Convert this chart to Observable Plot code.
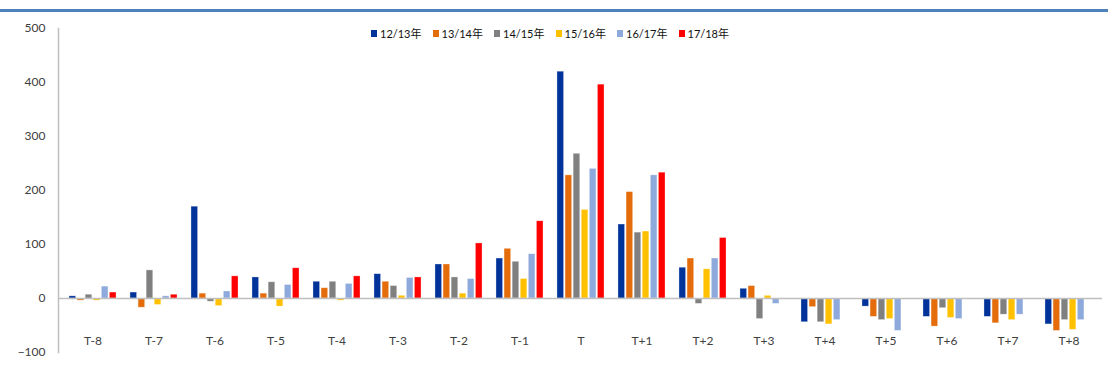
<!DOCTYPE html>
<html>
<head>
<meta charset="utf-8">
<script src="https://cdn.jsdelivr.net/npm/d3@7"></script>
<script src="https://cdn.jsdelivr.net/npm/@observablehq/plot@0.6"></script>
<style>
  body { margin: 0; background: #fff; }
  #wrap { position: relative; width: 1108px; height: 374px; font-family: Lato, "Noto Sans CJK SC", sans-serif; }
  #topline { position: absolute; left: 0; top: 9px; width: 1108px; height: 3px; background: #4F81BD; }
  #legend { position: absolute; left: 371px; top: 25px; display: flex; gap: 11px; font-size: 11px; color: #111; }
  #legend .item { display: flex; align-items: center; gap: 3px; }
  #legend .sw { width: 6px; height: 7px; display: inline-block; }
  #chart { position: absolute; left: 0; top: 0; }
</style>
</head>
<body>
<div id="wrap">
  <div id="chart"></div>
  <div id="topline"></div>
  <div id="legend"></div>
</div>
<script>
// Periods around the reference week
const categories = ["T-8","T-7","T-6","T-5","T-4","T-3","T-2","T-1","T","T+1","T+2","T+3","T+4","T+5","T+6","T+7","T+8"];

// Series names and colours
const seriesNames = ["12/13年","13/14年","14/15年","15/16年","16/17年","17/18年"];
const seriesColors = ["#003399","#E46C0A","#808080","#FFC000","#8EA9DB","#FF0000"];

// Values per season
const s1213 = [4, 11, 170, 39, 31, 45, 63, 74, 420, 137, 57, 18, -44, -15, -34, -34, -48];
const s1314 = [-4, -17, 9, 9, 19, 31, 63, 92, 228, 197, 74, 23, -16, -34, -52, -46, -60];
const s1415 = [7, 52, -6, 30, 31, 23, 39, 68, 268, 122, -10, -38, -44, -40, -18, -30, -40];
const s1516 = [-4, -12, -14, -15, -4, 5, 9, 36, 164, 124, 54, 5, -48, -38, -36, -40, -58];
const s1617 = [22, 4, 13, 25, 27, 38, 36, 82, 240, 228, 74, -10, -40, -60, -38, -30, -40];
const s1718 = [11, 7, 41, 56, 41, 39, 102, 143, 396, 233, 112, null, null, null, null, null, null];

const seriesValues = [s1213, s1314, s1415, s1516, s1617, s1718];

const width = 1108, height = 374;
const marginLeft = 58, marginRight = 6, marginTop = 28, marginBottom = 22;

// Grouped bars: each season sits in its own slot within the category band
const band = (width - marginLeft - marginRight) / categories.length;
const groupWidth = band * 0.79;
const slot = groupWidth / seriesNames.length;
const barWidth = slot * 0.87;

const barMarks = seriesValues.map((vals, i) => {
  const data = categories.map((c, j) => ({category: c, value: vals[j]})).filter(d => d.value != null);
  const insetLeft = (band - groupWidth) / 2 + i * slot + (slot - barWidth) / 2;
  const insetRight = band - insetLeft - barWidth;
  return Plot.barY(data, {
    x: "category",
    y: "value",
    fill: seriesColors[i],
    stroke: "#ffffff",
    strokeOpacity: 0.45,
    strokeWidth: 0.7,
    insetLeft,
    insetRight
  });
});

const chart = Plot.plot({
  width, height, marginLeft, marginRight, marginTop, marginBottom,
  style: {fontFamily: "Lato, 'Noto Sans CJK SC', sans-serif", fontSize: "11px", color: "#404040", background: "transparent"},
  x: {domain: categories, padding: 0, label: null},
  y: {domain: [-100, 500], label: null},
  marks: [
    Plot.frame({anchor: "left", stroke: "#BFBFBF", strokeWidth: 1.5}),
    ...barMarks,
    Plot.ruleY([0], {stroke: "#BFBFBF", strokeWidth: 1.5}),
    Plot.axisY({ticks: [-100, 0, 100, 200, 300, 400, 500], tickSize: 0, tickPadding: 13, fill: "#404040", fontSize: 12}),
    Plot.axisX({tickSize: 0, dy: -25, fill: "#404040", fontSize: 12})
  ]
});
document.getElementById("chart").appendChild(chart);

// Legend
const legend = document.getElementById("legend");
seriesNames.forEach((name, i) => {
  const item = document.createElement("div");
  item.className = "item";
  item.innerHTML = `<span class="sw" style="background:${seriesColors[i]}"></span><span>${name}</span>`;
  legend.appendChild(item);
});
</script>
</body>
</html>
